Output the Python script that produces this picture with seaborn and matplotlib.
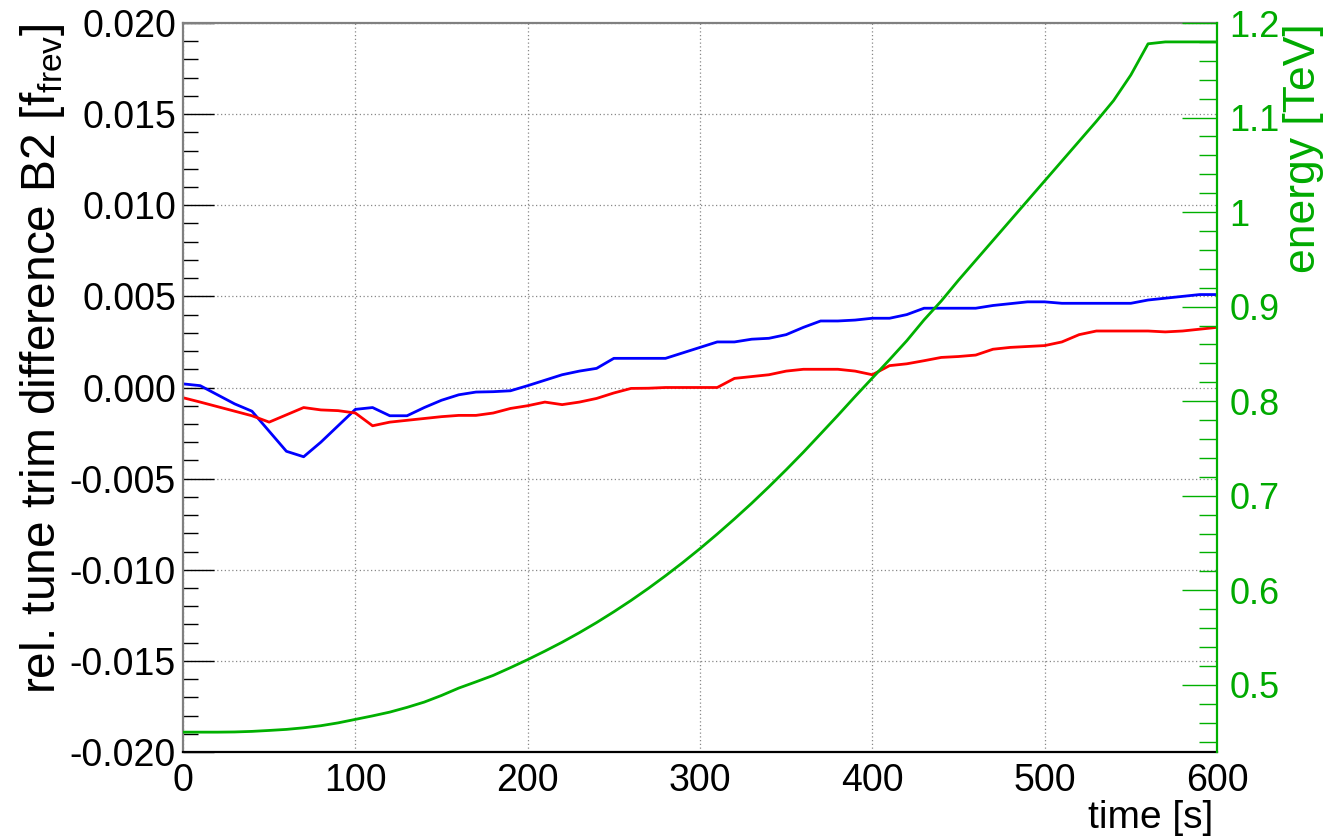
import numpy as np
import pandas as pd
import matplotlib
matplotlib.use("Agg")
import matplotlib.pyplot as plt
import seaborn as sns
from matplotlib.ticker import MultipleLocator, FuncFormatter

# ---------------- data ----------------
time_s = list(range(0, 601, 10))

tune_blue = [0.0002, 0.0001, -0.0004, -0.0009, -0.0013, -0.0024, -0.0035, -0.0038, -0.0030, -0.0021,
             -0.0012, -0.0011, -0.00155, -0.00155, -0.0011, -0.0007, -0.0004, -0.00025, -0.00023, -0.00018,
             0.0001, 0.0004, 0.0007, 0.0009, 0.00105, 0.0016, 0.0016, 0.0016, 0.0016, 0.0019,
             0.0022, 0.0025, 0.0025, 0.00265, 0.0027, 0.0029, 0.0033, 0.00365, 0.00365, 0.0037,
             0.0038, 0.0038, 0.0040, 0.00435, 0.00435, 0.00435, 0.00435, 0.0045, 0.0046, 0.0047,
             0.0047, 0.00462, 0.00462, 0.00462, 0.00462, 0.00462, 0.0048, 0.0049, 0.0050, 0.0051,
             0.0051]

tune_red = [-0.00056, -0.0008, -0.00105, -0.0013, -0.00155, -0.0019, -0.0015, -0.0011, -0.00123, -0.00127,
            -0.0014, -0.0021, -0.0019, -0.0018, -0.0017, -0.0016, -0.00153, -0.00153, -0.0014, -0.00115,
            -0.0010, -0.0008, -0.00094, -0.0008, -0.0006, -0.0003, -0.00005, -0.00004, 0.0, 0.0,
            0.0, 0.0, 0.0005, 0.0006, 0.0007, 0.0009, 0.0010, 0.0010, 0.0010, 0.0009,
            0.0007, 0.0012, 0.0013, 0.00147, 0.00165, 0.0017, 0.00178, 0.0021, 0.0022, 0.00225,
            0.0023, 0.0025, 0.0029, 0.0031, 0.0031, 0.0031, 0.0031, 0.00305, 0.0031, 0.0032,
            0.0033]

energy_tev = [0.450, 0.450, 0.450, 0.4502, 0.4508, 0.4518, 0.4529, 0.4546, 0.4568, 0.4598,
              0.4635, 0.4672, 0.4712, 0.4762, 0.4818, 0.4888, 0.4966, 0.5032, 0.5100, 0.5182,
              0.5267, 0.5357, 0.5451, 0.5552, 0.5659, 0.5773, 0.5893, 0.6020, 0.6154, 0.6294,
              0.6441, 0.6595, 0.6755, 0.6921, 0.7095, 0.7275, 0.7461, 0.7655, 0.785, 0.805,
              0.8245, 0.844, 0.864, 0.886, 0.906, 0.928, 0.949, 0.970, 0.991, 1.012,
              1.033, 1.054, 1.075, 1.096, 1.118, 1.145, 1.178, 1.180, 1.180, 1.180,
              1.180]

left_ticks = [-0.020, -0.015, -0.010, -0.005, 0.000, 0.005, 0.010, 0.015, 0.020]
right_ticks = [0.5, 0.6, 0.7, 0.8, 0.9, 1.0, 1.1, 1.2]

df = pd.DataFrame({"time": time_s, "blue": tune_blue, "red": tune_red, "energy": energy_tev})

# ---------------- style ----------------
sns.set_theme(style="white")
plt.rcParams["font.family"] = ["Liberation Sans", "DejaVu Sans"]
plt.rcParams["mathtext.fontset"] = "custom"
plt.rcParams["mathtext.rm"] = "Liberation Sans"
plt.rcParams["axes.unicode_minus"] = False

GREEN = "#00b000"
GREEN_TXT = "#00aa00"
FS = 27

fig = plt.figure(figsize=(13.28, 8.39), dpi=100)
ax = fig.add_axes([183 / 1328, 1 - 752 / 839, (1217 - 183) / 1328, (752 - 23) / 839])

ax.grid(True, which="major", linestyle=(0, (1, 2)), color="#888888", linewidth=0.9)
sns.lineplot(data=df, x="time", y="blue", color="#0000ff", linewidth=2, ax=ax)
sns.lineplot(data=df, x="time", y="red", color="#ff0000", linewidth=2, ax=ax)

ax.set_xlim(0, 600)
ax.set_ylim(-0.020, 0.020)
ax.xaxis.set_major_locator(MultipleLocator(100))
ax.xaxis.set_minor_locator(MultipleLocator(20))
ax.set_yticks(left_ticks)
ax.yaxis.set_minor_locator(MultipleLocator(0.001))
ax.yaxis.set_major_formatter(FuncFormatter(lambda v, p: f"{(0.0 if abs(v) < 1e-9 else v):.3f}"))

ax.tick_params(axis="both", which="both", direction="in", colors="black", labelcolor="black")
ax.tick_params(axis="x", which="major", length=12, width=1, labelsize=FS, pad=8, top=False)
ax.tick_params(axis="x", which="minor", length=5, width=1, top=False)
ax.tick_params(axis="y", which="major", length=22, width=1, labelsize=FS, pad=5, right=False)
ax.tick_params(axis="y", which="minor", length=11, width=1, right=False)

for side, col in [("left", "#808080"), ("top", "#808080"), ("bottom", "black")]:
    ax.spines[side].set_color(col)
    ax.spines[side].set_linewidth(1.6)
ax.spines["right"].set_visible(False)

ax.set_xlabel("time [s]", fontsize=28, loc="right", color="black")
ax.xaxis.set_label_coords(0.996, -0.066)
ax.xaxis.label.set_verticalalignment("top")
ax.set_ylabel(r"rel. tune trim difference B2 [f$_{\mathregular{frev}}$]", fontsize=34.5, loc="top", color="black")
ax.yaxis.set_label_coords(-0.112, 1.0)

# ---------------- energy on the right axis ----------------
ax2 = ax.twinx()
sns.lineplot(data=df, x="time", y="energy", color=GREEN, linewidth=2, ax=ax2)
ax2.set_ylim(0.429, 1.2)
ax2.set_yticks(right_ticks)
ax2.yaxis.set_minor_locator(MultipleLocator(0.02))
ax2.yaxis.set_major_formatter(FuncFormatter(lambda v, p: f"{round(v, 2):g}"))
ax2.tick_params(axis="y", which="both", direction="in", colors=GREEN, labelcolor=GREEN_TXT)
ax2.tick_params(axis="y", which="major", length=25, width=1, labelsize=26, pad=9)
ax2.tick_params(axis="y", which="minor", length=13, width=1)
for side in ["left", "top", "bottom"]:
    ax2.spines[side].set_visible(False)
ax2.spines["right"].set_color(GREEN)
ax2.spines["right"].set_linewidth(1.6)
ax2.grid(False)
ax2.set_ylabel("energy [TeV]", fontsize=32, loc="top", color=GREEN_TXT)
ax2.yaxis.set_label_coords(1.064, 1.0)

fig.savefig("out.png", dpi=100, facecolor="white")
